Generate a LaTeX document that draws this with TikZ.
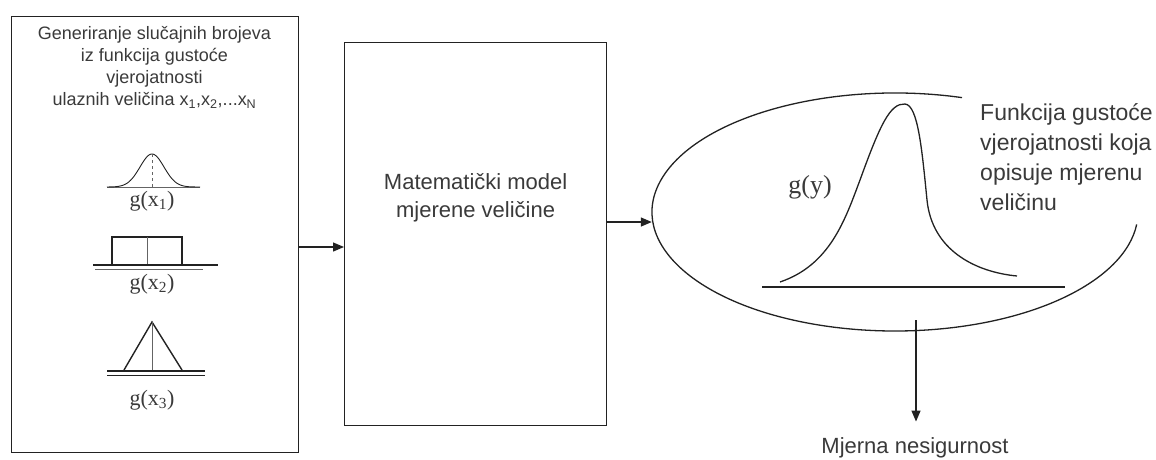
\documentclass[tikz,border=0pt]{standalone}
\usepackage{fontspec}
\setmainfont{Liberation Sans}
\newfontfamily\tmfont{Liberation Serif}
\usetikzlibrary{arrows.meta,shapes.geometric}
\definecolor{ink}{HTML}{222222}
\definecolor{txt}{HTML}{3A3A3A}
\tikzset{
  box/.style={draw=ink, line width=1.3pt, inner sep=0pt, anchor=north west},
  conn/.style={draw=ink, line width=1.3pt, -{Triangle[length=11pt,width=9pt]}},
  curve/.style={draw=ink, line width=1.1pt},
  thinl/.style={draw=ink!70, line width=0.6pt},
  lbl/.style={text=txt, inner sep=0pt},
  gl/.style={text=txt, inner sep=0pt, font=\tmfont\fontsize{22}{24}\selectfont},
}
\begin{document}
\begin{tikzpicture}[x=1pt,y=-1pt]
\useasboundingbox (0,0) rectangle (1156,459);
% boxes
\node[box, minimum width=287pt, minimum height=436pt] (inbox) at (11,16) {};
\node[box, minimum width=262pt, minimum height=383pt] (model) at (344,42) {};
% ellipse (open)
\node[ellipse, minimum width=486pt, minimum height=238pt, inner sep=0pt] (ell) at (895,212) {};
\draw[curve, line width=1.3pt] (ell.center) ++(-74:243 and 119) arc[start angle=-74, end angle=-354, x radius=243, y radius=119];
% texts
\node[lbl, align=center, anchor=north, font=\fontsize{18}{22}\selectfont] (title) at (154.5,26)
  {Generiranje slučajnih brojeva\\iz funkcija gustoće\\vjerojatnosti\\ulaznih veličina x\textsubscript{1},x\textsubscript{2},...x\textsubscript{N}};
\node[lbl, align=center, font=\fontsize{22}{28}\selectfont] (mtext) at (model.center |- 0,198)
  {Matematički model\\mjerene veličine};
\node[lbl, align=left, anchor=north west, font=\fontsize{23}{30}\selectfont] (ftext) at (980,103)
  {Funkcija gustoće\\vjerojatnosti koja\\opisuje mjerenu\\veličinu};
\node[lbl, font=\fontsize{22}{26}\selectfont] (unc) at (915,448) {Mjerna nesigurnost};
% small graphs
\draw[thinl] (107,187) -- (200,187);
\draw[curve, line width=0.9pt] plot[domain=107:200, samples=80, smooth] (\x, {187-33*exp(-((\x-152)/12)^2/2)});
\draw[thinl, dashed] (152,154) -- (152,187);
\node[gl] (g1) at (152,201) {g(x\textsubscript{1})};
\draw[curve] (112,265) -- (112,237) -- (182,237) -- (182,265);
\draw[thinl] (147,237) -- (147,265);
\draw[curve, line width=1.5pt] (93,265) -- (218,265);
\draw[thinl] (95,269) -- (203,269);
\node[gl] (g2) at (152,284) {g(x\textsubscript{2})};
\draw[curve, line width=1.4pt] (124,370) -- (152,322) -- (182,370);
\draw[thinl] (152,322) -- (152,370);
\draw[curve, line width=1.5pt] (107,371) -- (205,371);
\draw[curve, line width=1.3pt] (107,375.5) -- (205,375.5);
\node[gl] (g3) at (152,400) {g(x\textsubscript{3})};
% g(y)
\draw[curve, line width=1.3pt] (762,287) -- (1065,287);
\draw[curve, line width=1.3pt] (780,282) .. controls (830,265) and (845,220) .. (860,180)
  .. controls (880,125) and (890,103) .. (905,104)
  .. controls (918,105) and (922,150) .. (927,200)
  .. controls (932,250) and (975,272) .. (1017,276);
\node[gl, font=\tmfont\fontsize{26}{28}\selectfont] (gy) at (810,187) {g(y)};
% connectors
\coordinate (a1) at (inbox.east |- 0,247);
\coordinate (e1) at (ell.west |- 0,222);
\coordinate (d1) at (916,320);
\draw[conn] (a1) -- (model.west |- a1);
\draw[conn] (model.east |- e1) -- (e1);
\draw[conn] (d1) -- ([yshift=16pt]unc.north -| d1);
\end{tikzpicture}
\end{document}
